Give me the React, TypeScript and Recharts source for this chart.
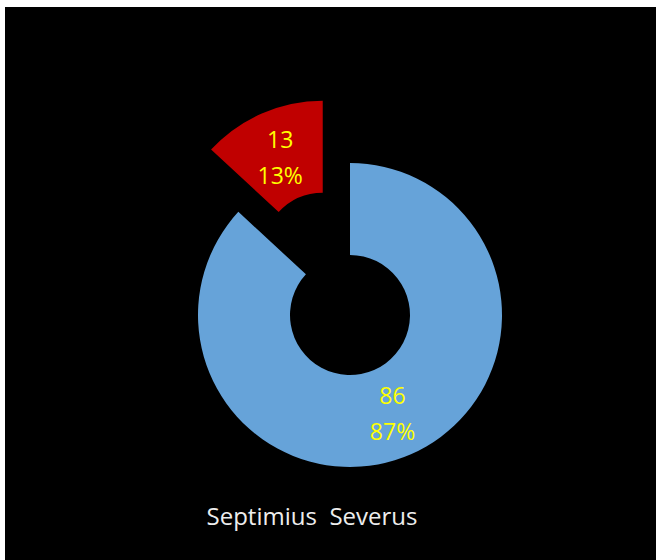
import { PieChart, Pie, Cell } from 'recharts';

const names = ['Severus', 'Septimius'];
const values = [86, 13];
const colors = ['#66A3D9', '#C00000'];
const title = 'Septimius  Severus';

const W = 651;
const H = 553;
const CX = 345;
const CY = 308;
const INNER = 60;
const OUTER = 152;
const EXPLODE = 68;
const RADIAN = Math.PI / 180;

const data = names.map((name, i) => ({ name, value: values[i] }));
const total = values.reduce((a, b) => a + b, 0);

// mid angle of the exploded (second) slice, recharts degrees
const before = values[0] / total;
const redMid = 90 - 360 * (before + values[1] / total / 2);
const offX = EXPLODE * Math.cos(-redMid * RADIAN);
const offY = EXPLODE * Math.sin(-redMid * RADIAN);

const makeLabel = (show: number) => (props: any) => {
  const { cx, cy, midAngle, innerRadius, outerRadius, value, percent, index } = props;
  if (index !== show) return null;
  const r = (innerRadius + outerRadius) / 2;
  const x = cx + r * Math.cos(-midAngle * RADIAN);
  const y = cy + r * Math.sin(-midAngle * RADIAN);
  return (
    <text x={x} y={y} fill="#FFFF00" textAnchor="middle" fontSize={23} fontFamily="'Open Sans', sans-serif">
      <tspan x={x} dy={-8}>{value}</tspan>
      <tspan x={x} dy={36}>{`${Math.round(percent * 100)}%`}</tspan>
    </text>
  );
};

const App = () => {
  return (
    <div style={{ position: 'absolute', left: 5, top: 7, width: W, height: H, background: '#000' }}>
      <PieChart width={W} height={H} margin={{ top: 0, right: 0, bottom: 0, left: 0 }}>
        <Pie
          data={data}
          dataKey="value"
          cx={CX}
          cy={CY}
          innerRadius={INNER}
          outerRadius={OUTER}
          startAngle={90}
          endAngle={-270}
          stroke="none"
          labelLine={false}
          label={makeLabel(0)}
          isAnimationActive={false}
        >
          {data.map((d, i) => (
            <Cell key={d.name} fill={i === 0 ? colors[0] : 'transparent'} />
          ))}
        </Pie>
        <Pie
          data={data}
          dataKey="value"
          cx={CX + offX}
          cy={CY + offY}
          innerRadius={INNER}
          outerRadius={OUTER}
          startAngle={90}
          endAngle={-270}
          stroke="none"
          labelLine={false}
          label={makeLabel(1)}
          isAnimationActive={false}
        >
          {data.map((d, i) => (
            <Cell key={d.name} fill={i === 1 ? colors[1] : 'transparent'} />
          ))}
        </Pie>
      </PieChart>
      <div
        style={{
          position: 'absolute',
          left: 0,
          width: 614,
          top: 492,
          textAlign: 'center',
          color: '#EDEDED',
          fontSize: 24,
          fontFamily: "'Open Sans', sans-serif",
          whiteSpace: 'pre',
        }}
      >
        {title}
      </div>
    </div>
  );
};

export default App;
